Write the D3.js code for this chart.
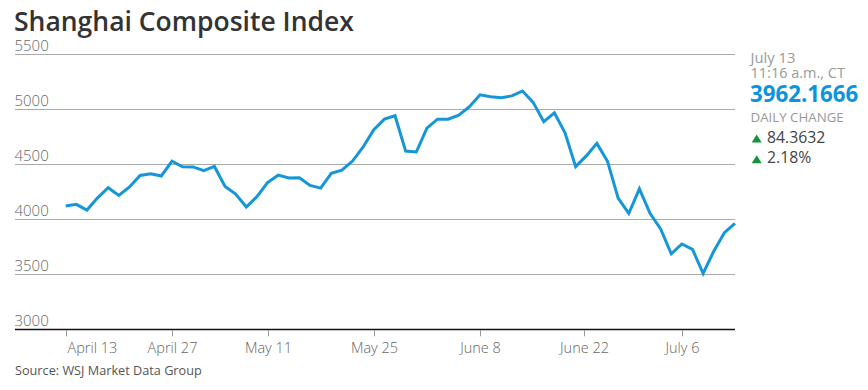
<!DOCTYPE html>
<html>
<head>
<meta charset="utf-8">
<script src="https://cdn.jsdelivr.net/npm/d3@7"></script>
<style>
  body { margin: 0; background: #fff; font-family: "Open Sans", sans-serif; }
  .title { font-size: 26.5px; font-weight: 600; fill: #333; }
  .ylab { font-size: 15px; font-weight: 300; fill: #666; }
  .xlab { font-size: 14.5px; font-weight: 300; fill: #666; }
  .src { font-size: 12.7px; fill: #555; }
</style>
</head>
<body>
<div id="chart"></div>
<script>
"use strict";

// trading days, April 13 - July 13 2015
var dates = [
  "2015-04-13","2015-04-14","2015-04-15","2015-04-16","2015-04-17",
  "2015-04-20","2015-04-21","2015-04-22","2015-04-23","2015-04-24",
  "2015-04-27","2015-04-28","2015-04-29","2015-04-30",
  "2015-05-04","2015-05-05","2015-05-06","2015-05-07","2015-05-08",
  "2015-05-11","2015-05-12","2015-05-13","2015-05-14","2015-05-15",
  "2015-05-18","2015-05-19","2015-05-20","2015-05-21","2015-05-22",
  "2015-05-25","2015-05-26","2015-05-27","2015-05-28","2015-05-29",
  "2015-06-01","2015-06-02","2015-06-03","2015-06-04","2015-06-05",
  "2015-06-08","2015-06-09","2015-06-10","2015-06-11","2015-06-12",
  "2015-06-15","2015-06-16","2015-06-17","2015-06-18","2015-06-19",
  "2015-06-23","2015-06-24","2015-06-25","2015-06-26",
  "2015-06-29","2015-06-30","2015-07-01","2015-07-02","2015-07-03",
  "2015-07-06","2015-07-07","2015-07-08","2015-07-09","2015-07-10",
  "2015-07-13"
];
var closes = [
  4121.7, 4135.6, 4084.2, 4194.8, 4287.3,
  4217.1, 4293.6, 4398.5, 4414.5, 4393.7,
  4527.4, 4476.6, 4476.2, 4441.7,
  4480.5, 4298.7, 4229.3, 4112.2, 4205.9,
  4333.6, 4401.2, 4375.8, 4378.3, 4308.7,
  4283.5, 4417.6, 4446.3, 4529.4, 4657.6,
  4813.8, 4910.9, 4941.7, 4620.3, 4611.7,
  4828.7, 4910.5, 4910.0, 4947.1, 5023.1,
  5131.9, 5113.5, 5106.0, 5121.6, 5166.4,
  5063.0, 4887.4, 4967.9, 4785.4, 4478.4,
  4576.5, 4690.2, 4527.8, 4192.9,
  4053.0, 4277.2, 4053.7, 3912.8, 3686.9,
  3775.9, 3727.1, 3507.2, 3709.3, 3877.8,
  3962.2
];
var yTicks = [3000, 3500, 4000, 4500, 5000, 5500];
var xTickDates = ["2015-04-13","2015-04-27","2015-05-11","2015-05-25","2015-06-08","2015-06-22","2015-07-06"];
var xTickLabels = ["April 13","April 27","May 11","May 25","June 8","June 22","July 6"];

var panelDate = "July 13";
var panelTime = "11:16 a.m., CT";
var panelValue = "3962.1666";
var panelChange = "84.3632";
var panelPct = "2.18%";

var parse = d3.timeParse("%Y-%m-%d");
var dayTimes = dates.map(function(d) { return parse(d).getTime(); });

// position of a calendar date on the trading-day index (holidays interpolated)
function dayIndex(s) {
  var t = parse(s).getTime();
  var i = d3.bisectLeft(dayTimes, t);
  if (dayTimes[i] === t) return i;
  return i - 1 + (t - dayTimes[i - 1]) / (dayTimes[i] - dayTimes[i - 1]);
}

var W = 868, H = 390;
var mLeft = 15, mRight = 735, mTop = 54.3, mBottom = 329.3;
var x0 = 65.7;

var svg = d3.select("#chart").append("svg")
  .attr("width", W).attr("height", H);

var x = d3.scaleLinear().domain([0, dates.length - 1]).range([x0, mRight]);
var y = d3.scaleLinear().domain([3000, 5500]).range([mBottom, mTop]);

svg.append("text").attr("class", "title")
  .attr("x", 14).attr("y", 31)
  .text("Shanghai Composite Index");

// gridlines + labels
var grid = svg.append("g");
grid.selectAll("line").data(yTicks).enter().append("line")
  .attr("x1", mLeft).attr("x2", mRight)
  .attr("y1", function(d) { return Math.round(y(d)) + 0.5; })
  .attr("y2", function(d) { return Math.round(y(d)) + 0.5; })
  .attr("stroke", function(d) { return d === 3000 ? "#111" : "#aaa"; })
  .attr("stroke-width", function(d) { return d === 3000 ? 1.6 : 1; });
grid.selectAll("text").data(yTicks).enter().append("text")
  .attr("class", "ylab")
  .attr("x", 14.5).attr("y", function(d) { return y(d) - 3; })
  .text(function(d) { return d; });

// x axis ticks (first label starts at its tick, the rest are centred)
var xa = svg.append("g");
xTickDates.forEach(function(d, i) {
  var px = Math.round(x(dayIndex(d))) + 0.5;
  xa.append("line").attr("x1", px).attr("x2", px)
    .attr("y1", mBottom + 1).attr("y2", mBottom + 7)
    .attr("stroke", "#999");
  xa.append("text").attr("class", "xlab")
    .attr("x", i === 0 ? px + 1 : px).attr("y", 352.5)
    .attr("text-anchor", i === 0 ? "start" : "middle")
    .text(xTickLabels[i]);
});

// line
var line = d3.line()
  .x(function(d, i) { return x(i); })
  .y(function(d) { return y(d); });
svg.append("path").datum(closes)
  .attr("d", line)
  .attr("fill", "none")
  .attr("stroke", "#1496d9")
  .attr("stroke-width", 3)
  .attr("stroke-linejoin", "miter");

// right panel
var p = svg.append("g");
p.append("text").attr("x", 750.5).attr("y", 62.5)
  .style("font-size", "14.8px").style("fill", "#999").text(panelDate);
p.append("text").attr("x", 750.5).attr("y", 77.5)
  .style("font-size", "14.5px").style("fill", "#999").text(panelTime);
p.append("text").attr("x", 750).attr("y", 101.7)
  .style("font-size", "22.3px").style("font-weight", 700).style("fill", "#0e94dc").text(panelValue);
p.append("text").attr("x", 750.5).attr("y", 121.7)
  .style("font-size", "13.3px").style("fill", "#999").text("DAILY CHANGE");
[[panelChange, 142.5], [panelPct, 163.3]].forEach(function(r) {
  p.append("path")
    .attr("d", "M" + 751.7 + "," + (r[1]) + "l5,-8l5,8z")
    .attr("fill", "#15933c");
  p.append("text").attr("x", 767).attr("y", r[1])
    .style("font-size", "15.8px").style("fill", "#444").text(r[0]);
});

svg.append("text").attr("class", "src")
  .attr("x", 15).attr("y", 375)
  .text("Source: WSJ Market Data Group");
</script>
</body>
</html>
